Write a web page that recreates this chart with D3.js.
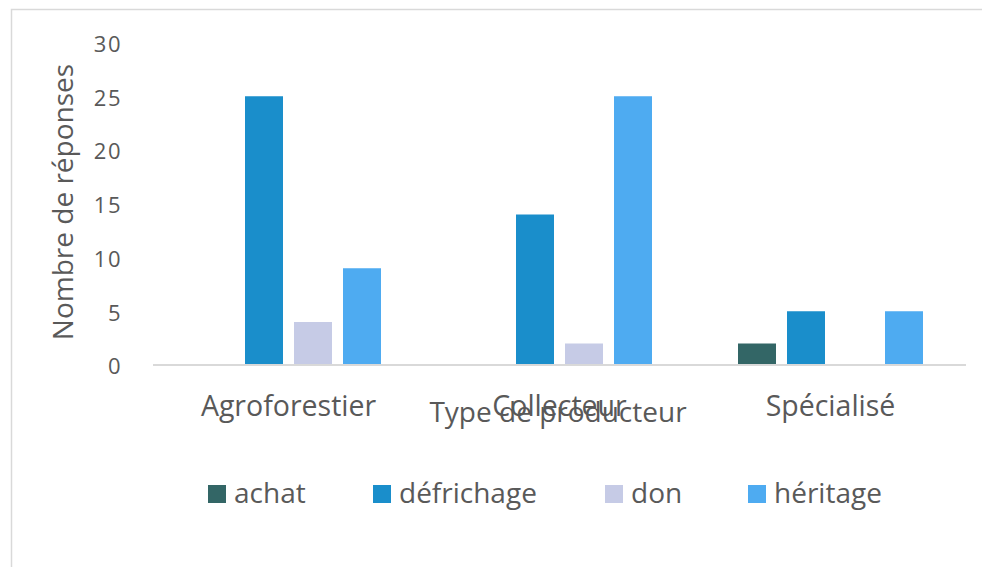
<!DOCTYPE html>
<html>
<head>
<meta charset="utf-8">
<script src="https://cdn.jsdelivr.net/npm/d3@7"></script>
<style>
  html, body { margin: 0; padding: 0; background: #fff; }
  svg { display: block; }
  text { font-family: "Open Sans", sans-serif; fill: #595959; }
</style>
</head>
<body>
<svg id="chart" width="982" height="567"></svg>
<script>
const categories = ["Agroforestier", "Collecteur", "Spécialisé"];
const seriesNames = ["achat", "défrichage", "don", "héritage"];
const achat      = [0, 0, 2];
const defrichage = [25, 14, 5];
const don        = [4, 2, 0];
const heritage   = [9, 25, 5];
const yTicks = [0, 5, 10, 15, 20, 25, 30];
const colors = ["#336666", "#1a8ecb", "#c6cbe6", "#4eabf1"];
const yTitle = "Nombre de réponses";
const xTitle = "Type de producteur";

const seriesValues = [achat, defrichage, don, heritage];

const svg = d3.select("#chart");

// chart border
svg.append("path")
  .attr("d", "M11.5,567 L11.5,9.5 L982,9.5")
  .attr("fill", "none")
  .attr("stroke", "#d9d9d9")
  .attr("stroke-width", 1.5);

const plot = { left: 153, right: 966, top: 42.5, bottom: 365 };

const y = d3.scaleLinear().domain([0, 30]).range([plot.bottom, plot.top]);
const x0 = d3.scaleBand().domain(categories).range([plot.left, plot.right]).padding(0);
const groupW = 185;
const x1 = d3.scaleBand().domain(seriesNames)
  .range([(x0.bandwidth() - groupW) / 2, (x0.bandwidth() + groupW) / 2])
  .paddingInner(11 / 49).paddingOuter(0);
const color = d3.scaleOrdinal().domain(seriesNames).range(colors);

// bars
const groups = svg.append("g").selectAll("g")
  .data(categories)
  .join("g")
  .attr("transform", d => `translate(${x0(d)},0)`);

groups.selectAll("rect")
  .data((c, i) => seriesNames.map((s, j) => ({ s, v: seriesValues[j][i] })))
  .join("rect")
  .filter(d => d.v > 0)
  .attr("x", d => x1(d.s))
  .attr("width", x1.bandwidth())
  .attr("y", d => y(d.v))
  .attr("height", d => y(0) - y(d.v))
  .attr("fill", d => color(d.s));

// baseline
svg.append("line")
  .attr("x1", plot.left).attr("x2", plot.right)
  .attr("y1", y(0)).attr("y2", y(0))
  .attr("stroke", "#d9d9d9").attr("stroke-width", 2);

// y axis
const yAxis = svg.append("g")
  .attr("transform", "translate(122,0)")
  .call(d3.axisLeft(y).tickValues(yTicks).tickSize(0).tickPadding(0));
yAxis.select(".domain").remove();
yAxis.selectAll("text")
  .attr("font-family", "Open Sans")
  .attr("font-size", 22)
  .attr("letter-spacing", 1.5)
  .attr("fill", "#595959")
  .attr("dy", "0.4em");

// x axis labels
const xAxis = svg.append("g")
  .attr("transform", `translate(0,${plot.bottom})`)
  .call(d3.axisBottom(x0).tickSize(0).tickPadding(0));
xAxis.select(".domain").remove();
xAxis.selectAll("text")
  .attr("font-family", "Open Sans")
  .attr("font-size", 28.5)
  .attr("fill", "#595959")
  .attr("y", 51)
  .attr("dy", 0);

// axis titles
svg.append("text")
  .attr("x", 558).attr("y", 422)
  .attr("text-anchor", "middle")
  .attr("font-size", 28)
  .text(xTitle);

svg.append("text")
  .attr("transform", "translate(73,202) rotate(-90)")
  .attr("text-anchor", "middle")
  .attr("font-size", 28)
  .text(yTitle);

// legend
const legendX = [208, 373, 605, 748];
const legend = svg.append("g").selectAll("g")
  .data(seriesNames)
  .join("g")
  .attr("transform", (d, i) => `translate(${legendX[i]},485)`);
legend.append("rect")
  .attr("width", 18).attr("height", 18)
  .attr("fill", d => color(d));
legend.append("text")
  .attr("x", 26).attr("y", 18)
  .attr("font-size", 28)
  .text(d => d);
</script>
</body>
</html>
